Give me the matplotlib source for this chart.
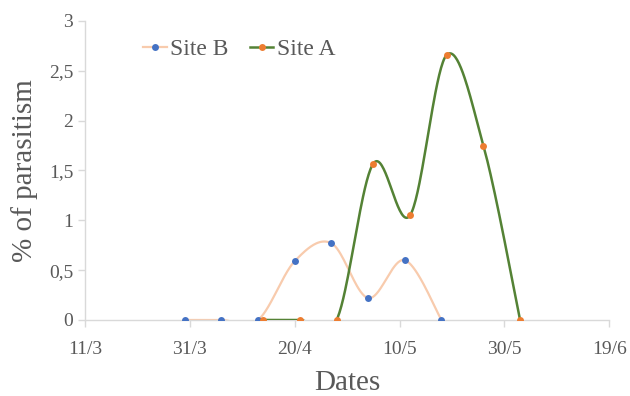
import numpy as np
import pandas as pd
import matplotlib
matplotlib.use("Agg")
import matplotlib.pyplot as plt
import matplotlib.dates as mdates
from matplotlib.lines import Line2D

# Daten (Site B und Site A, wöchentliche Probenahme)
dates_b = ["2018-03-30", "2018-04-06", "2018-04-13", "2018-04-20",
           "2018-04-27", "2018-05-04", "2018-05-11", "2018-05-18"]
values_b = [0, 0, 0, 0.59, 0.77, 0.22, 0.60, 0]

dates_a = ["2018-04-14", "2018-04-21", "2018-04-28", "2018-05-05",
           "2018-05-12", "2018-05-19", "2018-05-26", "2018-06-02"]
values_a = [0, 0, 0, 1.57, 1.05, 2.66, 1.75, 0]

x_ticks = ["2018-03-11", "2018-03-31", "2018-04-20", "2018-05-10",
           "2018-05-30", "2018-06-19"]
x_tick_labels = ["11/3", "31/3", "20/4", "10/5", "30/5", "19/6"]
y_ticks = [0, 0.5, 1, 1.5, 2, 2.5, 3]
y_tick_labels = ["0", "0,5", "1", "1,5", "2", "2,5", "3"]

GRAY = "#595959"
AXIS = "#d9d9d9"


def smooth(x, y, n=40):
    '''Geglättete Linie wie in Excel (Bezier mit Catmull-Rom-Kontrollpunkten).'''
    p = np.column_stack([x, y]).astype(float)
    out = []
    for i in range(len(p) - 1):
        p0 = p[i - 1] if i > 0 else p[i]
        p3 = p[i + 2] if i + 2 < len(p) else p[i + 1]
        c1 = p[i] + (p[i + 1] - p0) / 6
        c2 = p[i + 1] - (p3 - p[i]) / 6
        t = np.linspace(0, 1, n)[:, None]
        seg = ((1 - t) ** 3) * p[i] + 3 * ((1 - t) ** 2) * t * c1 \
            + 3 * (1 - t) * t ** 2 * c2 + t ** 3 * p[i + 1]
        out.append(seg if i == 0 else seg[1:])
    out = np.vstack(out)
    return out[:, 0], out[:, 1]


plt.rcParams['font.family'] = ['Liberation Serif', 'DejaVu Serif']

fig = plt.figure(figsize=(6.3, 3.96), dpi=100)
ax = fig.add_axes([0.135, 0.192, 0.832, 0.755])

xb = mdates.date2num(pd.to_datetime(dates_b))
xa = mdates.date2num(pd.to_datetime(dates_a))

sx, sy = smooth(xb, values_b)
ax.plot(sx, sy, color="#F8CBAD", lw=1.6, zorder=2)
ax.plot(xb, values_b, 'o', color="#4472C4", ms=5, mec="none", zorder=3)

sx, sy = smooth(xa, values_a)
ax.plot(sx, sy, color="#548235", lw=1.8, zorder=4)
ax.plot(xa, values_a, 'o', color="#ED7D31", ms=5, mec="none", zorder=5)

xt = mdates.date2num(pd.to_datetime(x_ticks))
ax.set_xlim(xt[0], xt[-1])
ax.set_ylim(0, 3)
ax.set_xticks(xt)
ax.set_xticklabels(x_tick_labels)
ax.set_yticks(y_ticks)
ax.set_yticklabels(y_tick_labels)

for side in ["top", "right"]:
    ax.spines[side].set_visible(False)
for side in ["left", "bottom"]:
    ax.spines[side].set_color(AXIS)
    ax.spines[side].set_linewidth(1.0)
ax.tick_params(axis="both", colors=AXIS, labelcolor=GRAY, labelsize=14,
               length=5, width=1.0, direction="out")
ax.tick_params(axis="x", pad=10)

ax.set_xlabel("Dates", fontsize=21, color=GRAY, labelpad=9)
ax.set_ylabel("% of parasitism", fontsize=21, color=GRAY, labelpad=8)

handles = [
    Line2D([], [], color="#F8CBAD", lw=1.6, marker='o', ms=5,
           mfc="#4472C4", mec="none"),
    Line2D([], [], color="#548235", lw=1.8, marker='o', ms=5,
           mfc="#ED7D31", mec="none"),
]
leg = ax.legend(handles, ["Site B", "Site A"], ncol=2, frameon=False,
                loc="upper left", bbox_to_anchor=(0.07, 1.012),
                fontsize=17, handlelength=1.0, handletextpad=0.15,
                columnspacing=0.9, labelcolor=GRAY)

fig.savefig("out.png", dpi=100)
